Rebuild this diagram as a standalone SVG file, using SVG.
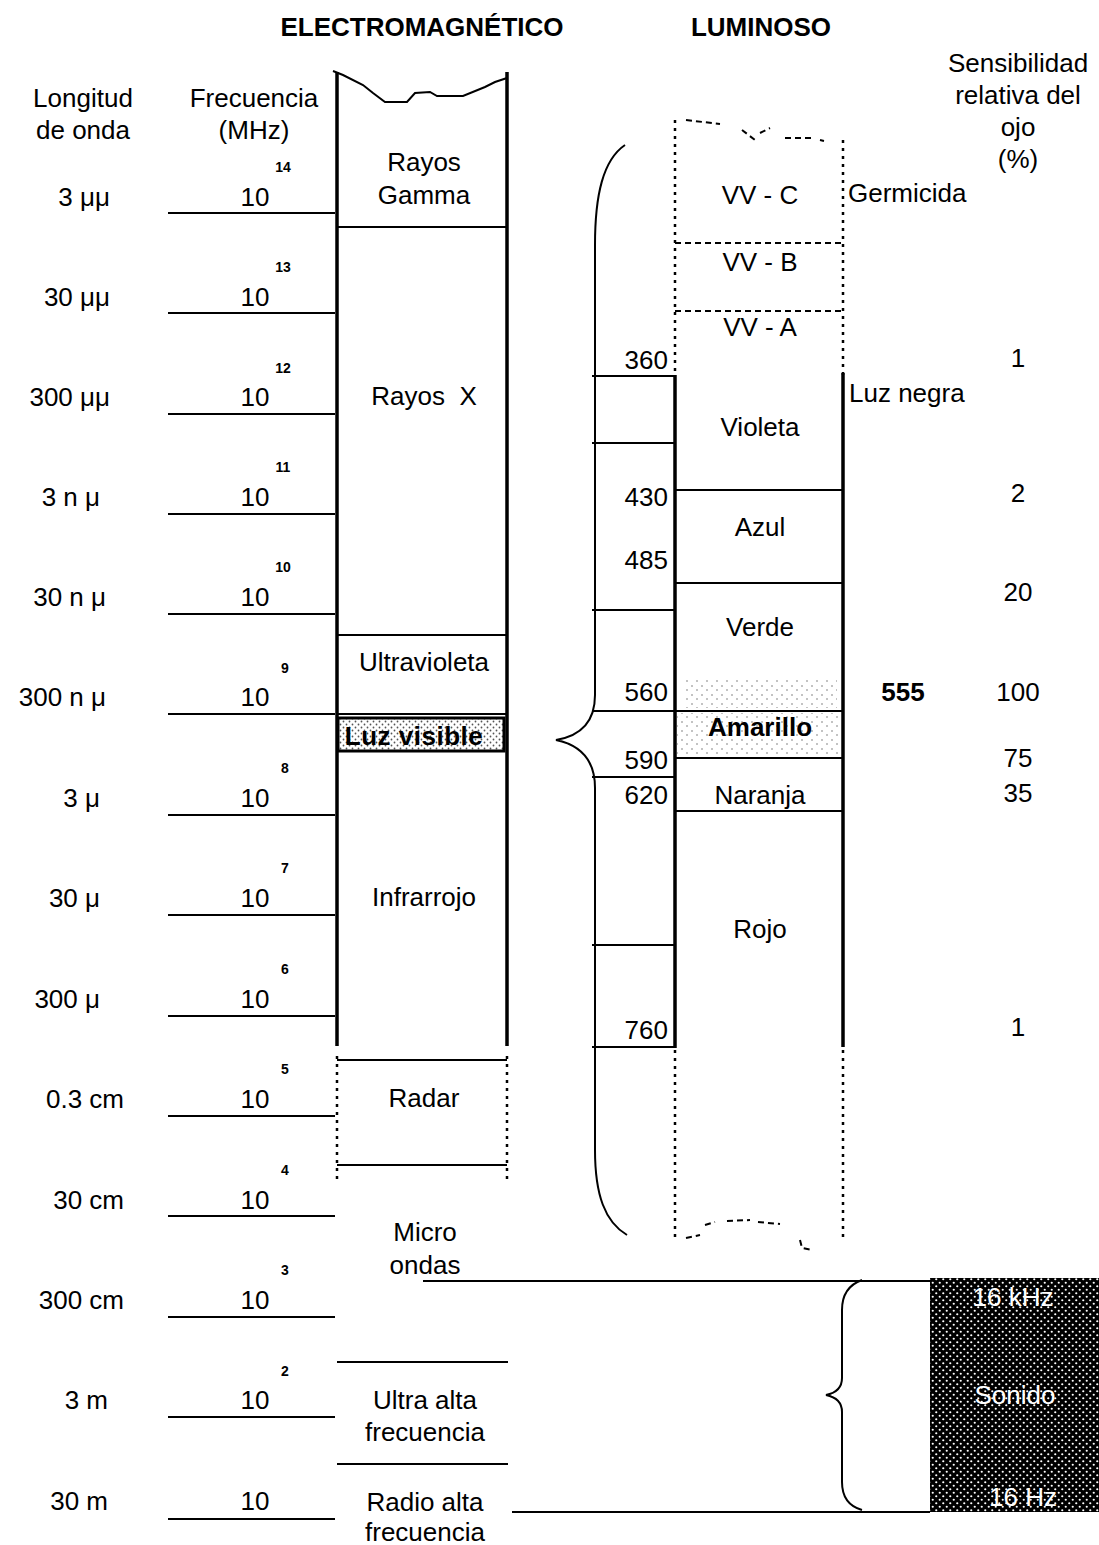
<svg xmlns="http://www.w3.org/2000/svg" width="1099" height="1545" viewBox="0 0 1099 1545">
<style>
text{font-family:"Liberation Sans",Arial,sans-serif;fill:#000}
.t{font-size:26px}
.c{text-anchor:middle}
.e{text-anchor:end}
.b{font-weight:bold}
.s{font-size:14px;font-weight:bold;text-anchor:middle}
.ln{stroke:#000;stroke-width:2;fill:none}
.th{stroke:#000;stroke-width:3.5;fill:none}
.dt{stroke:#000;stroke-width:2.5;fill:none;stroke-dasharray:3 5}
.dh{stroke:#000;stroke-width:2;fill:none;stroke-dasharray:6 4}
.w{fill:#fff}
</style>
<defs>
<pattern id="dots" width="6" height="6" patternUnits="userSpaceOnUse">
<rect width="6" height="6" fill="#fff"/>
<circle cx="1.5" cy="1.5" r="0.9" fill="#555"/>
<circle cx="4.5" cy="4.5" r="0.9" fill="#555"/>
</pattern>
<pattern id="sparse" width="10" height="9" patternUnits="userSpaceOnUse">
<rect width="10" height="9" fill="#fff"/>
<circle cx="2" cy="2" r="0.8" fill="#777"/>
<circle cx="7" cy="6" r="0.8" fill="#777"/>
</pattern>
<pattern id="dark" width="7" height="7" patternUnits="userSpaceOnUse">
<rect width="7" height="7" fill="#000"/>
<circle cx="1.75" cy="1.75" r="1.1" fill="#fff"/>
<circle cx="5.25" cy="5.25" r="1.1" fill="#fff"/>
</pattern>
</defs>

<!-- headers -->
<g id="headers">
<text class="t b c" x="422" y="36">ELECTROMAGNÉTICO</text>
<text class="t b c" x="761" y="36">LUMINOSO</text>
<text class="t c" x="83" y="107">Longitud</text>
<text class="t c" x="83" y="139">de onda</text>
<text class="t c" x="254" y="107">Frecuencia</text>
<text class="t c" x="254" y="139">(MHz)</text>
<text class="t c" x="1018" y="72">Sensibilidad</text>
<text class="t c" x="1018" y="104">relativa del</text>
<text class="t c" x="1018" y="136">ojo</text>
<text class="t c" x="1018" y="168">(%)</text>
</g>

<!-- scale rows -->
<g id="scale">
<g class="ln">
<line x1="168" y1="213" x2="335" y2="213"/>
<line x1="168" y1="313" x2="335" y2="313"/>
<line x1="168" y1="414" x2="335" y2="414"/>
<line x1="168" y1="514" x2="335" y2="514"/>
<line x1="168" y1="614" x2="335" y2="614"/>
<line x1="168" y1="714" x2="335" y2="714"/>
<line x1="168" y1="815" x2="335" y2="815"/>
<line x1="168" y1="915" x2="335" y2="915"/>
<line x1="168" y1="1016" x2="335" y2="1016"/>
<line x1="168" y1="1116" x2="335" y2="1116"/>
<line x1="168" y1="1216" x2="335" y2="1216"/>
<line x1="168" y1="1317" x2="335" y2="1317"/>
<line x1="168" y1="1417" x2="335" y2="1417"/>
<line x1="168" y1="1519" x2="335" y2="1519"/>
</g>
<text class="t e" x="110" y="206">3 μμ</text>
<text class="t e" x="110" y="306">30 μμ</text>
<text class="t e" x="110" y="406">300 μμ</text>
<text class="t e" x="100" y="506">3 n μ</text>
<text class="t e" x="106" y="606">30 n μ</text>
<text class="t e" x="106" y="706">300 n μ</text>
<text class="t e" x="100" y="807">3 μ</text>
<text class="t e" x="100" y="907">30 μ</text>
<text class="t e" x="100" y="1008">300 μ</text>
<text class="t e" x="124" y="1108">0.3 cm</text>
<text class="t e" x="124" y="1209">30 cm</text>
<text class="t e" x="124" y="1309">300 cm</text>
<text class="t e" x="108" y="1409">3 m</text>
<text class="t e" x="108" y="1510">30 m</text>
<g>
<text class="t c" x="255" y="206">10</text>
<text class="t c" x="255" y="306">10</text>
<text class="t c" x="255" y="406">10</text>
<text class="t c" x="255" y="506">10</text>
<text class="t c" x="255" y="606">10</text>
<text class="t c" x="255" y="706">10</text>
<text class="t c" x="255" y="807">10</text>
<text class="t c" x="255" y="907">10</text>
<text class="t c" x="255" y="1008">10</text>
<text class="t c" x="255" y="1108">10</text>
<text class="t c" x="255" y="1209">10</text>
<text class="t c" x="255" y="1309">10</text>
<text class="t c" x="255" y="1409">10</text>
<text class="t c" x="255" y="1510">10</text>
</g>
<g>
<text class="s" x="283" y="172">14</text>
<text class="s" x="283" y="272">13</text>
<text class="s" x="283" y="373">12</text>
<text class="s" x="283" y="472">11</text>
<text class="s" x="283" y="572">10</text>
<text class="s" x="285" y="673">9</text>
<text class="s" x="285" y="773">8</text>
<text class="s" x="285" y="873">7</text>
<text class="s" x="285" y="974">6</text>
<text class="s" x="285" y="1074">5</text>
<text class="s" x="285" y="1175">4</text>
<text class="s" x="285" y="1275">3</text>
<text class="s" x="285" y="1376">2</text>
</g>
</g>

<!-- electromagnetic column -->
<g id="em-column">
<line class="th" x1="337" y1="72" x2="337" y2="1046"/>
<line class="th" x1="507" y1="72" x2="507" y2="1046"/>
<path class="ln" d="M333,71 L343,75 L363,85 L373,93 L385,102 L407,102 L415,93 L430,92 L437,96 L463,96 L485,87 L495,82 L507,78"/>
<line class="ln" x1="337" y1="227" x2="507" y2="227"/>
<line class="ln" x1="337" y1="635" x2="507" y2="635"/>
<line class="ln" x1="337" y1="714" x2="507" y2="714"/>
</g>
<g id="rayos-gamma"><text class="t c" x="424" y="171">Rayos</text><text class="t c" x="424" y="204">Gamma</text></g>
<g id="rayos-x"><text class="t c" x="424" y="405" style="white-space:pre">Rayos  X</text></g>
<g id="ultravioleta"><text class="t c" x="424" y="671">Ultravioleta</text></g>
<g id="luz-visible">
<rect x="338" y="718" width="166" height="33" fill="url(#dots)" stroke="#000" stroke-width="3"/>
<text class="t b c" x="414" y="745" style="letter-spacing:0.5px">Luz visible</text>
</g>
<g id="infrarrojo"><text class="t c" x="424" y="906">Infrarrojo</text></g>
<g id="radar">
<line class="ln" x1="337" y1="1060" x2="507" y2="1060"/>
<line class="ln" x1="337" y1="1165" x2="507" y2="1165"/>
<line class="dt" x1="337" y1="1056" x2="337" y2="1182"/>
<line class="dt" x1="507" y1="1056" x2="507" y2="1182"/>
<text class="t c" x="424" y="1107">Radar</text>
</g>
<g id="micro-ondas"><text class="t c" x="425" y="1241">Micro</text><text class="t c" x="425" y="1274">ondas</text></g>
<g id="ultra-alta"><text class="t c" x="425" y="1409">Ultra alta</text><text class="t c" x="425" y="1441">frecuencia</text></g>
<g id="radio-alta"><text class="t c" x="425" y="1511">Radio alta</text><text class="t c" x="425" y="1541">frecuencia</text></g>

<!-- connectors -->
<g id="connectors">
<path class="ln" d="M625,145 C603,160 595,195 595,245 L595,695 C595,722 580,736 556,740 C580,745 595,760 595,788 L595,1150 C595,1195 605,1222 627,1235"/>
<line class="ln" x1="423" y1="1281" x2="930" y2="1281"/>
<line class="ln" x1="512" y1="1512" x2="930" y2="1512"/>
<line class="ln" x1="337" y1="1362" x2="508" y2="1362"/>
<line class="ln" x1="337" y1="1464" x2="508" y2="1464"/>
<path class="ln" d="M862,1280 C848,1285 842,1295 842,1310 L842,1378 C842,1388 836,1393 826,1395 C836,1397 842,1403 842,1412 L842,1482 C842,1497 848,1506 862,1510"/>
</g>

<!-- luminoso column -->
<g id="lum-column">
<line class="dt" x1="675" y1="120" x2="675" y2="376"/>
<line class="dt" x1="843" y1="140" x2="843" y2="376"/>
<line class="dt" x1="675" y1="1050" x2="675" y2="1242"/>
<line class="dt" x1="843" y1="1050" x2="843" y2="1242"/>
<path class="dh" d="M686,120 L720,124 M742,130 L755,140 M760,133 L770,128 M785,138 L812,138 M820,140 L824,141" stroke-width="1.5"/>
<path class="dh" d="M686,1238 L700,1235 M705,1225 L715,1222 M727,1221 L750,1220 M758,1222 L780,1224 M800,1240 L802,1248 L812,1250" stroke-width="1.5"/>
<line class="dh" x1="675" y1="243" x2="843" y2="243"/>
<line class="dh" x1="675" y1="311" x2="843" y2="311"/>
<line class="th" x1="675" y1="375" x2="675" y2="1048"/>
<line class="th" x1="843" y1="373" x2="843" y2="1047"/>
<g class="ln">
<line x1="592" y1="376" x2="675" y2="376"/>
<line x1="592" y1="443" x2="675" y2="443"/>
<line x1="592" y1="610" x2="675" y2="610"/>
<line x1="592" y1="777" x2="675" y2="777"/>
<line x1="592" y1="945" x2="675" y2="945"/>
<line x1="592" y1="1047" x2="675" y2="1047"/>
<line x1="675" y1="490" x2="843" y2="490"/>
<line x1="675" y1="583" x2="843" y2="583"/>
<line x1="592" y1="711" x2="843" y2="711"/>
<line x1="675" y1="758" x2="843" y2="758"/>
<line x1="675" y1="811" x2="843" y2="811"/>
</g>
<text class="t e" x="668" y="369">360</text>
<text class="t e" x="668" y="506">430</text>
<text class="t e" x="668" y="569">485</text>
<text class="t e" x="668" y="701">560</text>
<text class="t e" x="668" y="769">590</text>
<text class="t e" x="668" y="804">620</text>
<text class="t e" x="668" y="1039">760</text>
</g>
<g id="vv-c"><text class="t c" x="760" y="204">VV - C</text></g>
<g id="vv-b"><text class="t c" x="760" y="271">VV - B</text></g>
<g id="vv-a"><text class="t c" x="760" y="336">VV - A</text></g>
<g id="violeta"><text class="t c" x="760" y="436">Violeta</text></g>
<g id="azul"><text class="t c" x="760" y="536">Azul</text></g>
<g id="verde"><rect x="685" y="680" width="152" height="28" fill="url(#sparse)"/><text class="t c" x="760" y="636">Verde</text></g>
<g id="amarillo"><rect x="677" y="713" width="164" height="44" fill="url(#sparse)"/><text class="t b c" x="760" y="736">Amarillo</text></g>
<g id="naranja"><text class="t c" x="760" y="804">Naranja</text></g>
<g id="rojo"><text class="t c" x="760" y="938">Rojo</text></g>

<!-- right annotations -->
<g id="annotations">
<text class="t" x="848" y="202">Germicida</text>
<text class="t" x="849" y="402">Luz negra</text>
<text class="t b c" x="903" y="701">555</text>
<text class="t c" x="1018" y="367">1</text>
<text class="t c" x="1018" y="502">2</text>
<text class="t c" x="1018" y="601">20</text>
<text class="t c" x="1018" y="701">100</text>
<text class="t c" x="1018" y="767">75</text>
<text class="t c" x="1018" y="802">35</text>
<text class="t c" x="1018" y="1036">1</text>
</g>

<g id="sonido">
<rect x="930" y="1278" width="169" height="234" fill="url(#dark)"/>
<text class="t c w" x="1013" y="1306">16 kHz</text>
<text class="t c w" x="1015" y="1404">Sonido</text>
<text class="t c w" x="1023" y="1506">16 Hz</text>
</g>
</svg>
